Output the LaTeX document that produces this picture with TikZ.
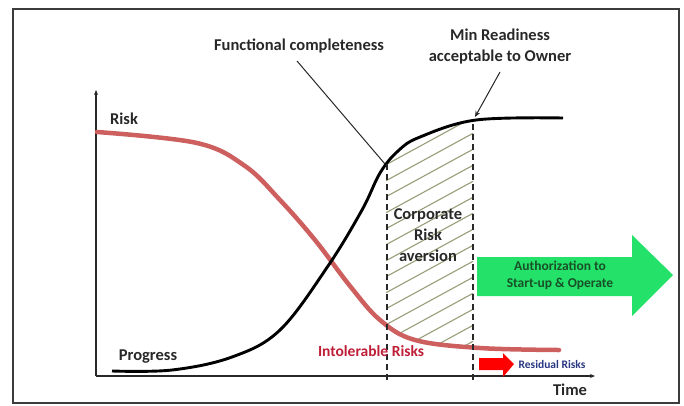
\documentclass[tikz,border=0pt]{standalone}
\usepackage{fontspec}
\setmainfont{Carlito}
\usetikzlibrary{arrows.meta}
\definecolor{riskred}{RGB}{205,95,95}
\definecolor{hatchc}{RGB}{150,160,120}
\definecolor{greenarrow}{RGB}{35,225,105}
\definecolor{greentext}{RGB}{25,80,40}
\definecolor{intolred}{RGB}{190,30,55}
\definecolor{resblue}{RGB}{40,55,130}
\definecolor{framec}{RGB}{60,60,60}
\definecolor{textc}{RGB}{40,40,40}
\tikzset{
  lbl/.style={font=\fontsize{16.5}{21}\selectfont\bfseries, text=textc, inner sep=0pt, align=center},
  dashv/.style={draw=textc, line width=1.3pt, dash pattern=on 6pt off 4pt},
  axisline/.style={draw=textc, line width=1.2pt, -{Stealth[length=5pt,width=4pt]}},
  pointer/.style={draw=textc, line width=1pt},
}
\def\blackpts{(112,371) (172,370) (232,357) (280,330) (328,266) (362,210) (380,173) (398,151) (420,137) (476,120) (563,118)}
\def\redpts{(97,132) (197,143) (245,166) (280,200) (315,240) (350,286) (380,320) (415,340) (480,348) (559,350)}
\begin{document}
\begin{tikzpicture}[x=1pt,y=-1pt]
\useasboundingbox (0,0) rectangle (684,405);
\draw[framec, line width=1.6pt] (13,9) rectangle (679,403);
% hatch
\begin{scope}
  \clip (386,0) rectangle (473,400);
  \clip plot[smooth, tension=0.6] coordinates {\blackpts} -- (600,405) -- (100,405) -- cycle;
  \clip plot[smooth, tension=0.6] coordinates {\redpts} -- (600,0) -- (97,0) -- cycle;
  \foreach \i in {0,...,22} {
    \draw[hatchc, line width=1.1pt] (380,{120+16*\i}) -- ++(110,-60);
  }
\end{scope}
% axes
\coordinate (origin) at (96,376);
\coordinate (ytop) at (96,90);
\coordinate (xend) at (595,376);
\draw[axisline] (origin) -- (ytop);
\draw[axisline] (origin) -- (xend);
% curves
\draw[riskred, line width=4.5pt, line cap=round] plot[smooth, tension=0.6] coordinates {\redpts};
\draw[black, line width=2.9pt] plot[smooth, tension=0.6] coordinates {\blackpts};
% dashed lines
\coordinate (d1t) at (387,164); \coordinate (d1b) at (387,382);
\coordinate (d2t) at (473,124); \coordinate (d2b) at (473,382);
\draw[dashv] (d1t) -- (d1b);
\draw[dashv] (d2t) -- (d2b);
% labels
\node[lbl] (risk) at (124,119) {Risk};
\node[lbl] (progress) at (148,357) {Progress};
\node[lbl] (time) at (570,390) {Time};
\node[lbl] (func) at (299,46) {Functional completeness};
\node[lbl] (minr) at (500,47) {Min Readiness\\acceptable to Owner};
\node[lbl] (corp) at (428,235) {Corporate\\Risk\\aversion};
\node[lbl, text=intolred, font=\fontsize{15.5}{17}\selectfont\bfseries] (intol) at (371,351) {Intolerable Risks};
% pointers
\coordinate (fpt) at (385,164);
\coordinate (mpt) at (475,117);
\draw[pointer] (297,61) -- (fpt);
\draw[pointer, -{Stealth[length=6pt,width=5pt]}] (500,72) -- (mpt);
% green arrow
\draw[draw=none, fill=greenarrow] (477,257) -- (632,257) -- (632,235) -- (673,275) -- (632,316) -- (632,296) -- (477,296) -- cycle;
\node[lbl, text=greentext, font=\fontsize{13.5}{17}\selectfont\bfseries] (auth) at (560,275) {Authorization to\\Start-up \& Operate};
% red arrow
\draw[draw=none, fill=red] (479,358) -- (503,358) -- (503,353) -- (514,364) -- (503,377) -- (503,370) -- (479,370) -- cycle;
\node[lbl, text=resblue, font=\fontsize{11.5}{13}\selectfont\bfseries] (resid) at (552,364) {Residual Risks};
\end{tikzpicture}
\end{document}
